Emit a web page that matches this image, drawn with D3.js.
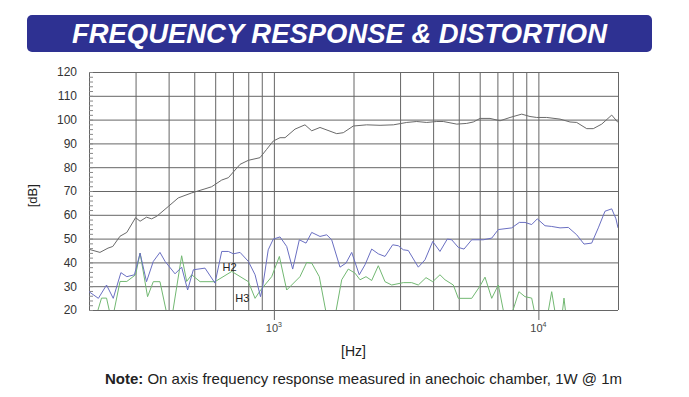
<!DOCTYPE html>
<html>
<head>
<meta charset="utf-8">
<script src="https://cdn.jsdelivr.net/npm/d3@7"></script>
<style>
	body { margin: 0; background: #fff; }
	svg { display: block; font-family: Arial, "Liberation Sans", sans-serif; }
</style>
</head>
<body>
<div id="wrapper"></div>
<script>
/////////////////////////////////////////////////
// data /////////////////////////////////////////
/////////////////////////////////////////////////

// on axis response (dB)
const responseFreq = [200, 220, 236, 246, 262, 278, 300, 312, 330, 345, 361, 400, 435, 489, 549, 582, 635, 673, 745, 801, 886, 939, 995, 1055, 1102, 1202, 1311, 1390, 1494, 1728, 1830, 1996, 2242, 2520, 2829, 3178, 3468, 3783, 4128, 4371, 4913, 5358, 5676, 6018, 6565, 7162, 7813, 8650, 9296, 9854, 10754, 12073, 13168, 13962, 15230, 16128, 17356, 18934, 20000];
const responseLevel = [45.5, 44.2, 46, 46.7, 51, 52.6, 58.8, 57.3, 59, 58.3, 59.4, 63.6, 67.1, 69.2, 70.9, 71.8, 74.6, 75.6, 81.2, 82.9, 84, 87.5, 91, 92.4, 92.4, 96, 97.8, 95.3, 96.7, 94.1, 94.5, 97.3, 97.8, 97.6, 97.8, 98.8, 99.2, 98.8, 99.2, 99.2, 98.1, 98.4, 99, 100.5, 100.5, 99.5, 100.9, 102.3, 101.3, 100.9, 100.9, 100.2, 99, 98.8, 96.2, 96.2, 98.1, 101.9, 98.8];

// 2nd harmonic
const h2Freq = [200, 217, 233, 247, 264, 278, 297, 312, 330, 350, 371, 388, 423, 448, 472, 496, 549, 599, 635, 673, 703, 745, 801, 849, 890, 907, 952, 995, 1055, 1118, 1178, 1248, 1323, 1390, 1494, 1584, 1654, 1778, 1873, 1969, 2103, 2211, 2343, 2482, 2631, 2813, 2954, 3086, 3223, 3516, 3727, 3986, 4246, 4525, 4702, 4981, 5234, 5598, 6191, 6662, 7055, 7927, 8472, 8900, 9434, 9908, 10594, 11230, 12073, 12976, 13962, 14876, 15904, 16848, 17858, 18934, 19652, 20000];
const h2Level = [27.7, 24.9, 30.5, 24.9, 35.7, 34, 34.8, 43.9, 31.9, 40.4, 44.2, 40.4, 35.2, 38, 28.4, 36.9, 37.6, 31.3, 44.6, 44.6, 43.6, 44.2, 40.4, 34.8, 25.6, 29.8, 45.3, 49.8, 50.7, 46.7, 37.2, 49.5, 48.1, 52.6, 50.9, 51.6, 49.5, 38, 39.7, 44.2, 34.8, 39, 45.6, 43.6, 42.5, 47.4, 47, 45.3, 45, 38, 41.1, 48.8, 44.6, 49.8, 49.5, 46.3, 45.6, 49.5, 49.5, 50.2, 53.8, 54.5, 56.8, 56.8, 55.9, 58.3, 55.4, 55.1, 54.5, 54.7, 51.6, 47.7, 48.1, 54.5, 61.5, 62.5, 58.3, 54.5];

// 3rd harmonic (parts below 20 dB fall outside the frame)
const h3Freq = [211, 223, 233, 244, 262, 278, 300, 312, 333, 350, 371, 405, 448, 468, 489, 526, 599, 693, 801, 849, 886, 981, 1049, 1118, 1255, 1331, 1390, 1485, 1644, 1805, 1911, 2026, 2117, 2230, 2343, 2482, 2631, 2789, 3086, 3319, 3516, 3760, 3986, 4246, 4436, 4768, 4981, 5598, 6018, 6284, 6662, 7055, 7610, 8440, 8900, 9434, 9968, 10686, 11230, 11762, 12176, 12498, 12830, 13000];
const h3Level = [16, 25, 25, 15, 32, 32, 34.8, 43.9, 25.6, 31.9, 31.9, 12, 42.8, 32, 34.8, 31.9, 31.9, 36.2, 31.9, 24.9, 28, 34, 42.5, 28.4, 34, 40, 39.7, 34, 8, 32.7, 37.2, 35.5, 32.7, 34, 32.4, 38.6, 31.9, 30.5, 31.5, 31.5, 30.5, 33.6, 31.9, 34.8, 32.7, 30.5, 24.9, 24.9, 30.1, 33.8, 24.9, 30.5, 12, 27.7, 25.6, 25, 12, 14, 27.7, 14, 14, 25, 14, 12];

const gridFreqs = [200, 300, 400, 500, 600, 700, 800, 900, 1000, 2000, 3000, 4000, 5000, 6000, 7000, 8000, 9000, 10000, 20000];
const decadeFreqs = [1000, 10000];
const decadeLabels = ["3", "4"];
const levelTicks = [20, 30, 40, 50, 60, 70, 80, 90, 100, 110, 120];

const titleText = "FREQUENCY RESPONSE & DISTORTION";

/////////////////////////////////////////////////
// chart ////////////////////////////////////////
/////////////////////////////////////////////////

const createChart = () => {
	const toPoints = (freqs, levels) => freqs.map((f, i) => ({ f, db: levels[i] }));
	const response = toPoints(responseFreq, responseLevel);
	const h2 = toPoints(h2Freq, h2Level);
	const h3 = toPoints(h3Freq, h3Level);

	const xAccessor = (d) => d.f;
	const yAccessor = (d) => d.db;

	let dimensions = {
		width: 689,
		height: 397,
		margin: { top: 72, right: 71, bottom: 87, left: 89 }
	};
	dimensions.boundedWidth =
		dimensions.width - dimensions.margin.left - dimensions.margin.right;
	dimensions.boundedHeight =
		dimensions.height - dimensions.margin.top - dimensions.margin.bottom;

	const wrapper = d3
		.select("#wrapper")
		.append("svg")
		.attr("width", dimensions.width)
		.attr("height", dimensions.height);

	/////////////////////////////////////////////////
	// title banner /////////////////////////////////
	/////////////////////////////////////////////////

	wrapper
		.append("rect")
		.attr("x", 27)
		.attr("y", 15)
		.attr("width", 625)
		.attr("height", 37)
		.attr("rx", 5)
		.attr("fill", "#2e3192");

	wrapper
		.append("text")
		.attr("x", 339.5)
		.attr("y", 42.5)
		.attr("text-anchor", "middle")
		.attr("fill", "#fff")
		.attr("textLength", 535)
		.attr("lengthAdjust", "spacingAndGlyphs")
		.style("font-size", "27px")
		.style("font-weight", "bold")
		.style("font-style", "italic")
		.text(titleText);

	const bounds = wrapper
		.append("g")
		.attr(
			"transform",
			`translate(${dimensions.margin.left},${dimensions.margin.top})`
		);

	/////////////////////////////////////////////////
	// scales ///////////////////////////////////////
	/////////////////////////////////////////////////

	const xScale = d3
		.scaleLog()
		.domain([200, 20000])
		.range([0, dimensions.boundedWidth]);

	const yScale = d3
		.scaleLinear()
		.domain([20, 120])
		.range([dimensions.boundedHeight, 0]);

	/////////////////////////////////////////////////
	// grid & axes //////////////////////////////////
	/////////////////////////////////////////////////

	const gridColor = "#666";

	// long ticks under the decades
	const decadeAxis = bounds
		.append("g")
		.attr("transform", `translate(0,${dimensions.boundedHeight})`)
		.call(
			d3
				.axisBottom(xScale)
				.tickValues(decadeFreqs)
				.tickSize(10)
				.tickFormat("")
		);
	decadeAxis.select(".domain").remove();
	decadeAxis.selectAll("line").attr("stroke", gridColor);

	const xGrid = bounds
		.append("g")
		.call(
			d3
				.axisBottom(xScale)
				.tickValues(gridFreqs)
				.tickSize(dimensions.boundedHeight)
				.tickFormat("")
		);
	xGrid.select(".domain").remove();
	xGrid.selectAll("line").attr("stroke", gridColor);

	const yGrid = bounds
		.append("g")
		.call(
			d3
				.axisLeft(yScale)
				.tickValues(levelTicks)
				.tickSize(-dimensions.boundedWidth)
				.tickFormat("")
		);
	yGrid.select(".domain").remove();
	yGrid.selectAll("line").attr("stroke", gridColor);

	// little inside ticks every 2 dB
	const minorAxis = bounds
		.append("g")
		.call(
			d3
				.axisRight(yScale)
				.tickValues(d3.range(20, 121, 2))
				.tickSize(4)
				.tickFormat("")
		);
	minorAxis.select(".domain").attr("stroke", gridColor);
	minorAxis.selectAll("line").attr("stroke", "#888");

	const yAxis = bounds
		.append("g")
		.call(d3.axisLeft(yScale).tickValues(levelTicks).tickSize(0).tickPadding(12));
	yAxis.select(".domain").remove();
	yAxis
		.selectAll("text")
		.attr("fill", "#333")
		.style("font-size", "12px")
		.style("font-family", "Arial, 'Liberation Sans', sans-serif");

	const xLabels = bounds
		.append("g")
		.selectAll("text")
		.data(decadeFreqs)
		.join("text")
		.attr("x", (d) => xScale(d))
		.attr("y", dimensions.boundedHeight + 22)
		.attr("text-anchor", "middle")
		.attr("fill", "#444")
		.style("font-size", "11px");
	xLabels.append("tspan").text("10");
	xLabels
		.append("tspan")
		.attr("dy", -5)
		.style("font-size", "7px")
		.text((d, i) => decadeLabels[i]);

	bounds
		.append("text")
		.attr("x", xScale(2000))
		.attr("y", dimensions.boundedHeight + 46)
		.attr("text-anchor", "middle")
		.attr("fill", "#222")
		.style("font-size", "14px")
		.text("[Hz]");

	bounds
		.append("text")
		.attr("transform", `translate(-52,${yScale(68)}) rotate(-90)`)
		.attr("text-anchor", "middle")
		.attr("fill", "#222")
		.style("font-size", "13px")
		.text("[dB]");

	/////////////////////////////////////////////////
	// lines ////////////////////////////////////////
	/////////////////////////////////////////////////

	bounds
		.append("clipPath")
		.attr("id", "plot-clip")
		.append("rect")
		.attr("width", dimensions.boundedWidth)
		.attr("height", dimensions.boundedHeight);

	const lineGenerator = d3
		.line()
		.x((d) => xScale(xAccessor(d)))
		.y((d) => yScale(yAccessor(d)));

	const lines = bounds.append("g").attr("clip-path", "url(#plot-clip)");

	lines
		.append("path")
		.attr("d", lineGenerator(h3))
		.attr("fill", "none")
		.attr("stroke", "#72b872")
		.attr("stroke-width", 1);

	lines
		.append("path")
		.attr("d", lineGenerator(h2))
		.attr("fill", "none")
		.attr("stroke", "#6a6fc2")
		.attr("stroke-width", 1);

	lines
		.append("path")
		.attr("d", lineGenerator(response))
		.attr("fill", "none")
		.attr("stroke", "#6a6a6a")
		.attr("stroke-width", 1);

	// series labels
	bounds
		.append("text")
		.attr("x", xScale(640))
		.attr("y", yScale(36.5))
		.attr("fill", "#222")
		.style("font-size", "11px")
		.text("H2");

	bounds
		.append("text")
		.attr("x", xScale(715))
		.attr("y", yScale(23.5))
		.attr("fill", "#222")
		.style("font-size", "11px")
		.text("H3");

	/////////////////////////////////////////////////
	// note /////////////////////////////////////////
	/////////////////////////////////////////////////

	const note = wrapper
		.append("text")
		.attr("x", 363.5)
		.attr("y", 384)
		.attr("text-anchor", "middle")
		.attr("fill", "#222")
		.style("font-size", "15px");
	note.append("tspan").style("font-weight", "bold").text("Note:");
	note
		.append("tspan")
		.text(" On axis frequency response measured in anechoic chamber, 1W @ 1m");
};

createChart();
</script>
</body>
</html>
